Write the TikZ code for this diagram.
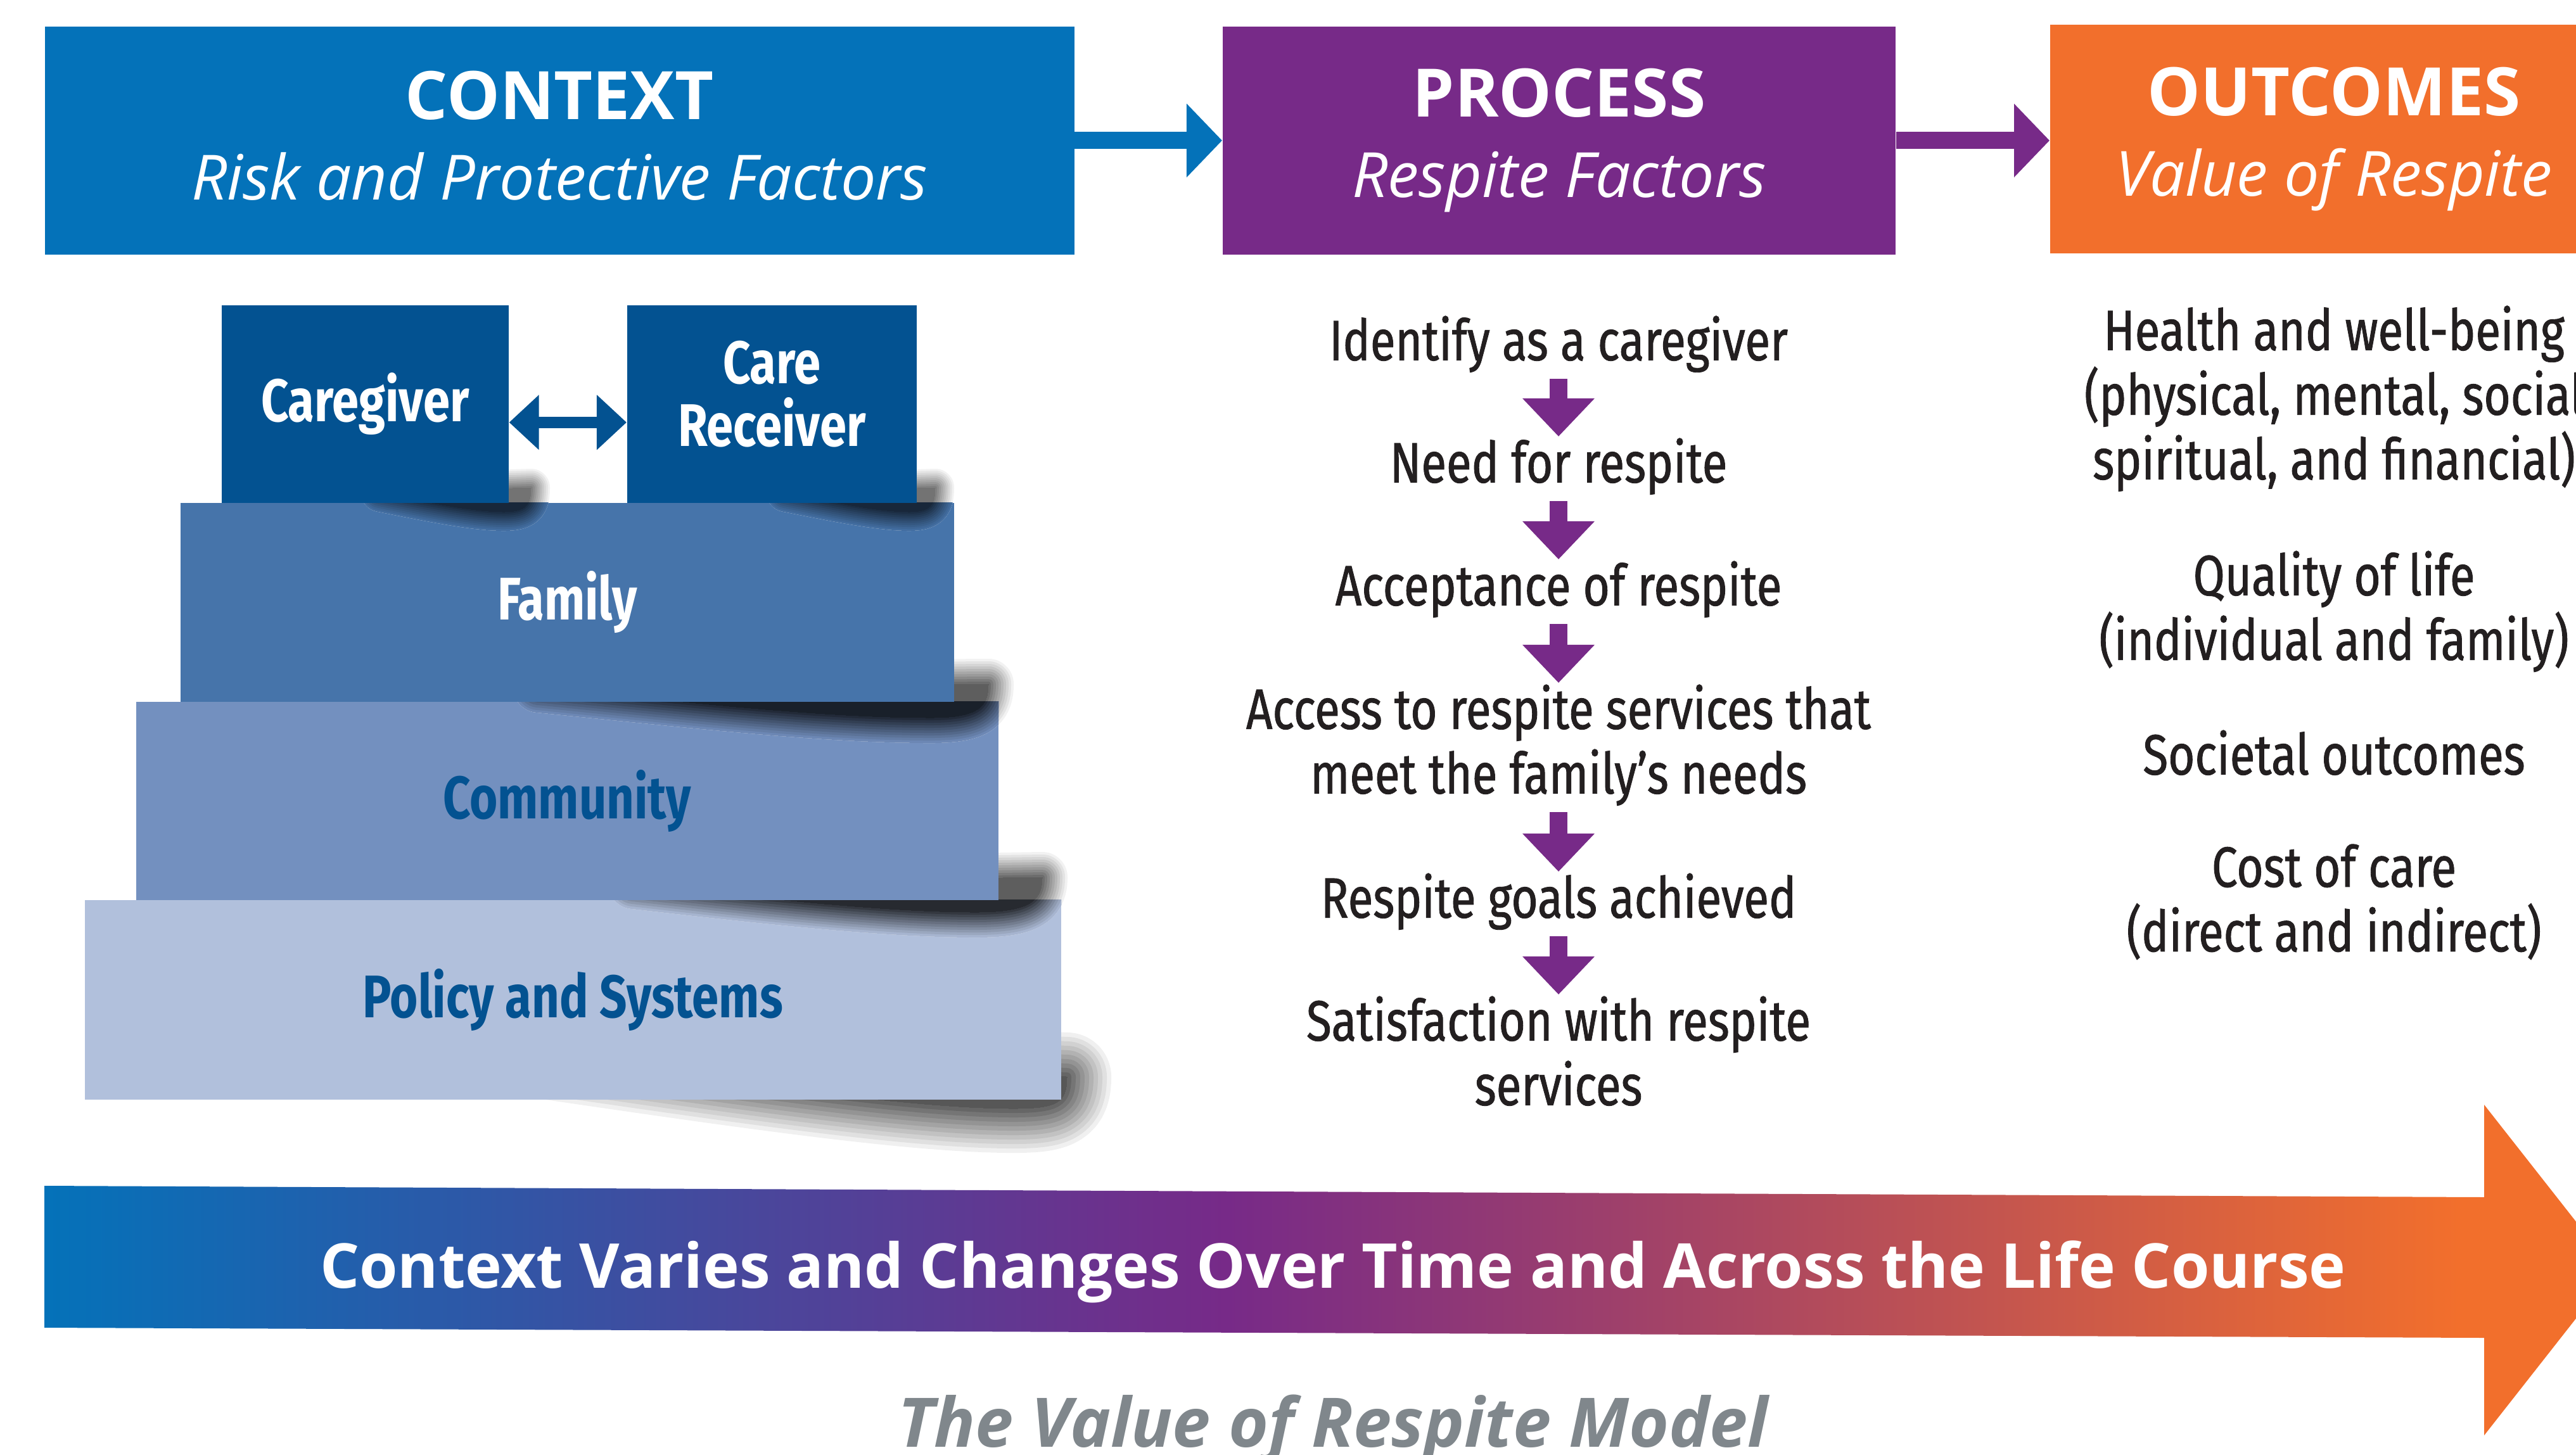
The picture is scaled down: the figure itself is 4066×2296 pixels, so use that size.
\documentclass[tikz,border=0pt]{standalone}
\usepackage{fontspec}
\usetikzlibrary{arrows.meta,positioning}
\newfontfamily\headfont{Open Sans}
\newfontfamily\condfont[FakeStretch=0.81,FakeBold=1]{Fira Sans}
\newfontfamily\tierfont[FakeStretch=0.8]{Fira Sans}
\definecolor{cblue}{HTML}{0472B9}
\definecolor{cpurple}{HTML}{772A88}
\definecolor{corange}{HTML}{F26F2C}
\definecolor{cdark}{HTML}{035291}
\definecolor{cfamily}{HTML}{4674AA}
\definecolor{ccommunity}{HTML}{7390BF}
\definecolor{cpolicy}{HTML}{B1C0DC}
\definecolor{cgray}{HTML}{80878C}
\definecolor{ctext}{HTML}{231F20}
\pgfdeclarehorizontalshading{lifecourse}{100bp}{color(0bp)=(cblue); color(25bp)=(cblue); color(48bp)=(cpurple); color(72bp)=(corange); color(100bp)=(corange)}
\begin{document}
\begin{tikzpicture}[x=0.01cm, y=-0.01cm,
  hbox/.style = {anchor=north west, inner sep=0pt, text=white, align=center,
        minimum height=3.6cm, font=\headfont\fontsize{30}{36}\selectfont\bfseries},
  tier/.style = {anchor=north west, inner sep=0pt, align=center,
        font=\tierfont\fontsize{27}{28}\selectfont\bfseries},
  stage/.style = {anchor=north, inner sep=0pt, align=center, text=ctext,
        font=\condfont\fontsize{25.5}{29}\selectfont},
  flow/.style = {line width=0.27cm, -{Triangle[length=0.56cm,width=1.13cm]}},
  pdown/.style = {draw=cpurple, line width=0.28cm, shorten <=0.1cm, shorten >=0.02cm,
        -{Triangle[length=0.6cm,width=1.1cm]}},
  curl/.style = {fill=#1, draw=#1, line join=round},
  policy curl/.style = {insert path={(860,1665) .. controls (1200,1715) and (1450,1750)
        .. (1600,1750) .. controls (1670,1750) and (1684,1740) .. (1684,1700) -- cycle}},
  community curl/.style = {insert path={(1000,1395) .. controls (1200,1418) and (1400,1440)
        .. (1540,1440) .. controls (1625,1440) and (1645,1422) .. (1645,1385) -- cycle}},
  family curl/.style = {insert path={(850,1085) .. controls (1100,1110) and (1300,1133)
        .. (1470,1133) .. controls (1545,1133) and (1560,1115) .. (1560,1080) -- cycle}},
  giver curl/.style = {insert path={(600,778) .. controls (680,794) and (750,808)
        .. (795,808) .. controls (830,808) and (838,797) .. (838,770) -- cycle
        (1240,778) .. controls (1320,794) and (1390,808) .. (1435,808)
        .. controls (1468,808) and (1476,797) .. (1476,770) -- cycle}}
]
 \clip (0,0) rectangle (4066,2296);
 \useasboundingbox (0,0) rectangle (4066,2296);
 % headers
 \node[hbox, fill=cblue, minimum width=16.24cm, text depth=0.16cm] (context) at (70,41)
   {CONTEXT\\{\mdseries\itshape\fontsize{28}{36}\selectfont Risk and Protective Factors}};
 \node[hbox, fill=cpurple, minimum width=10.62cm] (process) at (1929,41)
   {PROCESS\\{\mdseries\itshape\fontsize{28}{36}\selectfont Respite Factors}};
 \node[hbox, fill=corange, minimum width=8.96cm, minimum height=3.61cm] (outcomes) at (3235,38)
   {OUTCOMES\\{\mdseries\itshape\fontsize{28}{36}\selectfont Value of Respite}};
 \draw[flow, cblue] (context) -- (process);
 \draw[flow, cpurple] (process.east) -- (outcomes.west |- process.east);
 % pyramid, bottom up, soft shadows first
 \foreach \w [evaluate=\w as \d using {66-6*\w}] in {10,9,...,0}
   \path[curl=black!\d!white, line width=\w*1.4mm, policy curl];
 \node[tier, fill=cpolicy, text=cdark, minimum width=15.4cm, minimum height=3.15cm]
   (policy) at (133,1420) {Policy and Systems};
 \foreach \w [evaluate=\w as \d using {63-5.8*\w}] in {10,9,...,0}
   \path[curl=black!\d!white, line width=\w*0.8mm, community curl];
 \begin{scope}
   \clip (policy.north west) rectangle (policy.south east);
   \foreach \w [evaluate=\w as \d using {78-7.2*\w}] in {10,9,...,0}
     \path[curl=black!\d!cpolicy, line width=\w*0.8mm, community curl];
 \end{scope}
 \node[tier, fill=ccommunity, text=cdark, minimum width=13.6cm, minimum height=3.13cm]
   (community) at (214,1107) {Community};
 \foreach \w [evaluate=\w as \d using {63-5.8*\w}] in {10,9,...,0}
   \path[curl=black!\d!white, line width=\w*0.8mm, family curl];
 \begin{scope}
   \clip (community.north west) rectangle (community.south east);
   \foreach \w [evaluate=\w as \d using {78-7.2*\w}] in {10,9,...,0}
     \path[curl=black!\d!ccommunity, line width=\w*0.8mm, family curl];
 \end{scope}
 \node[tier, fill=cfamily, text=white, minimum width=12.21cm, minimum height=3.14cm]
   (family) at (284,793) {Family};
 \foreach \w [evaluate=\w as \d using {55-5*\w}] in {10,9,...,0}
   \path[curl=black!\d!white, line width=\w*0.6mm, giver curl];
 \begin{scope}
   \clip (family.north west) rectangle (family.south east);
   \foreach \w [evaluate=\w as \d using {66-6*\w}] in {10,9,...,0}
     \path[curl=black!\d!cfamily, line width=\w*0.6mm, giver curl];
 \end{scope}
 \node[tier, fill=cdark, text=white, minimum width=4.53cm, minimum height=3.12cm]
   (giver) at (349,481) {Caregiver};
 \node[tier, fill=cdark, text=white, minimum width=4.57cm, minimum height=3.12cm,
   text depth=0.33cm] (receiver) at (989,481) {Care\\Receiver};
 \draw[cdark, line width=0.18cm,
   {Triangle[length=0.47cm,width=0.84cm]}-{Triangle[length=0.47cm,width=0.84cm]}]
   ([yshift=-0.29cm]giver.east) -- ([yshift=-0.29cm]receiver.west);
 % process steps
 \node[stage] (p1) at (2460,498) {Identify as a caregiver};
 \node[stage] (p2) at (2460,691) {Need for respite};
 \node[stage] (p3) at (2460,885) {Acceptance of respite};
 \node[stage] (p4) at (2460,1080) {Access to respite services that\\meet the family’s needs};
 \node[stage] (p5) at (2460,1378) {Respite goals achieved};
 \node[stage] (p6) at (2460,1572) {Satisfaction with respite\\services};
 \foreach \a/\b in {p1/p2,p2/p3,p3/p4,p4/p5,p5/p6}
   \draw[pdown] (\a) -- (\b);
 % outcomes
 \node[stage] (o1) at (3684,482) {Health and well-being\\(physical, mental, social\\spiritual, and financial)};
 \node[stage] (o2) at (3684,869) {Quality of life\\(individual and family)};
 \node[stage] (o3) at (3684,1152) {Societal outcomes};
 \node[stage] (o4) at (3684,1332) {Cost of care\\(direct and indirect)};
 % life course banner
 \shade[shading=lifecourse] (70,1872) -- (3921,1890) -- (3921,1744) -- (4126,2005)
   -- (3921,2266) -- (3921,2112) -- (70,2096) -- cycle;
 \node[font=\headfont\bfseries\fontsize{27.8}{32}\selectfont, text=white] (course) at (2104,2008)
   {Context Varies and Changes Over Time and Across the Life Course};
 \node[font=\headfont\bfseries\itshape\fontsize{30.7}{36}\selectfont, text=cgray, anchor=base]
   (model) at (2104,2284) {The Value of Respite Model};
\end{tikzpicture}
\end{document}
